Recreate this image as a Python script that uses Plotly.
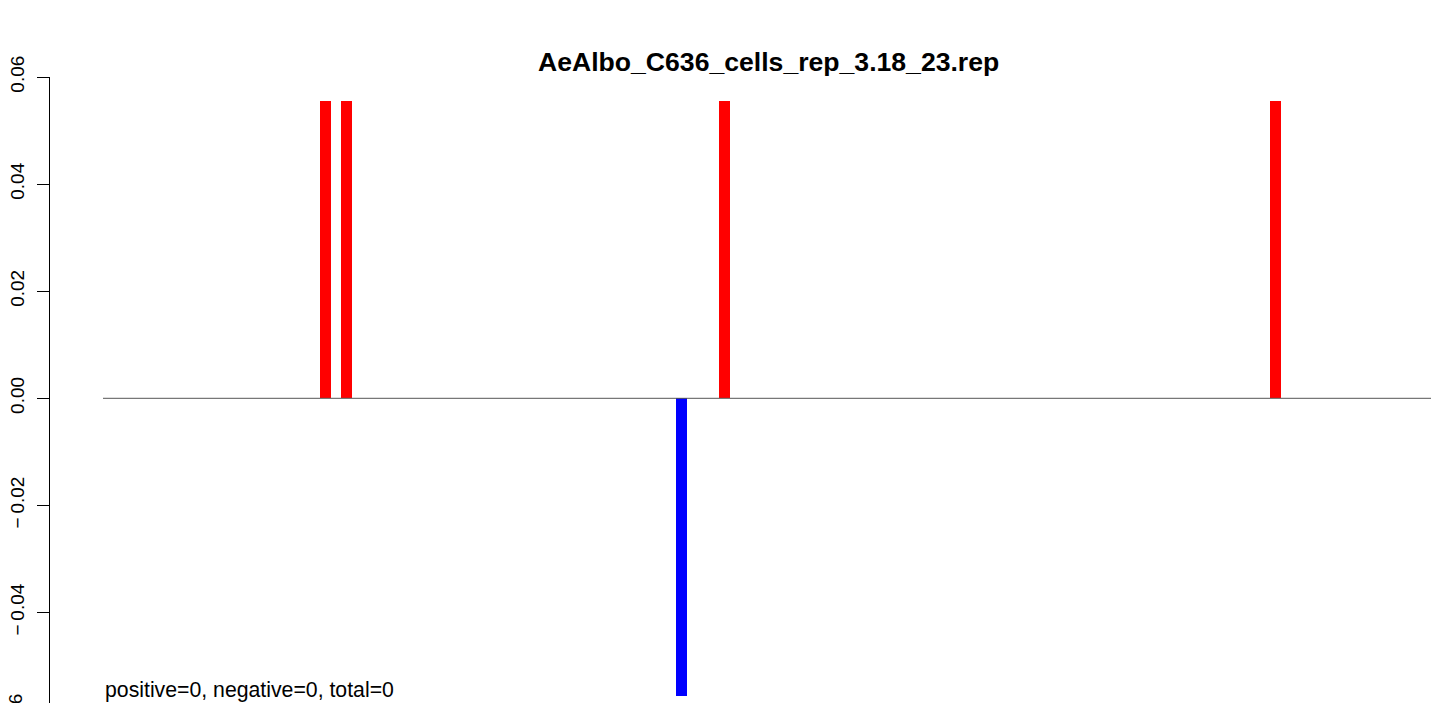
import plotly.graph_objects as go

# Data
title_text = "AeAlbo_C636_cells_rep_3.18_23.rep"
bar_positions = [11.55, 12.54, 28.42, 30.46, 56.58]
bar_values = [0.0556, 0.0556, -0.0556, 0.0556, 0.0556]
baseline_x = [1, 64]
baseline_y = [0, 0]
y_tick_values = [-0.06, -0.04, -0.02, 0.00, 0.02, 0.04, 0.06]
summary_text = "positive=0, negative=0, total=0"

bar_colors = ["red" if v > 0 else "blue" for v in bar_values]


def tick_label(v):
    s = "%.2f" % abs(v)
    return ("\u2212\u2009" + s) if v < 0 else s


y_tick_text = [tick_label(v) for v in y_tick_values]

# the page body has an 8px margin; compensate so the picture lands where the reference has it
OFF = 8
W, H = 1439 - OFF, 703 - OFF
ml, mr, mt, mb = 50 - OFF, 0, 77 - OFF, 0
plot_h = H - mt - mb
plot_w = W - ml - mr

fig = go.Figure()
fig.add_trace(go.Bar(
    x=bar_positions, y=bar_values, width=0.521,
    marker=dict(color=bar_colors, line=dict(width=0)),
    showlegend=False, hoverinfo="x+y",
))
fig.add_trace(go.Scatter(
    x=baseline_x, y=baseline_y, mode="lines",
    line=dict(color="#555555", width=1), showlegend=False, hoverinfo="skip",
))

font_fam = "Liberation Sans, Arial, Helvetica, sans-serif"

fig.update_layout(
    width=W, height=H,
    margin=dict(l=ml, r=mr, t=mt, b=mb, pad=0, autoexpand=False),
    paper_bgcolor="white", plot_bgcolor="white",
    font=dict(family=font_fam, color="black", size=19),
    xaxis=dict(visible=False, range=[-1.5125, 64.3318], fixedrange=True,
               automargin=False),
    yaxis=dict(
        range=[-0.0569, 0.06],
        tickvals=y_tick_values,
        ticktext=y_tick_text,
        tickangle=-90,
        ticks="outside", ticklen=12, tickwidth=1, tickcolor="black",
        showline=True, linecolor="black", linewidth=1,
        showgrid=False, zeroline=False,
        tickfont=dict(size=19, family=font_fam, color="black"),
        ticklabelstandoff=5,
        automargin=False,
    ),
    bargap=0,
)

# Partially visible bottom tick label (-0.06), cut by the canvas edge
fig.add_annotation(
    text=tick_label(-0.06), xref="paper", yref="paper",
    x=0, xshift=-34, xanchor="center",
    y=-(719.6 - 703) / plot_h, yanchor="middle",
    textangle=-90, showarrow=False,
    font=dict(size=19, family=font_fam, color="black"),
)

# Title
fig.add_annotation(
    text="<b>" + title_text + "</b>", xref="paper", yref="paper",
    x=(768 - 50) / plot_w, xanchor="center",
    y=1 + (77 - 62) / plot_h, yanchor="middle",
    showarrow=False,
    font=dict(size=26.6, family=font_fam, color="black"),
)

# Summary text
fig.add_annotation(
    text=summary_text, xref="paper", yref="paper",
    x=(103 - 50) / plot_w, xanchor="left",
    y=(703 - 690) / plot_h, yanchor="middle",
    showarrow=False,
    font=dict(size=21.25, family=font_fam, color="black"),
)

fig.write_html("out.html")
